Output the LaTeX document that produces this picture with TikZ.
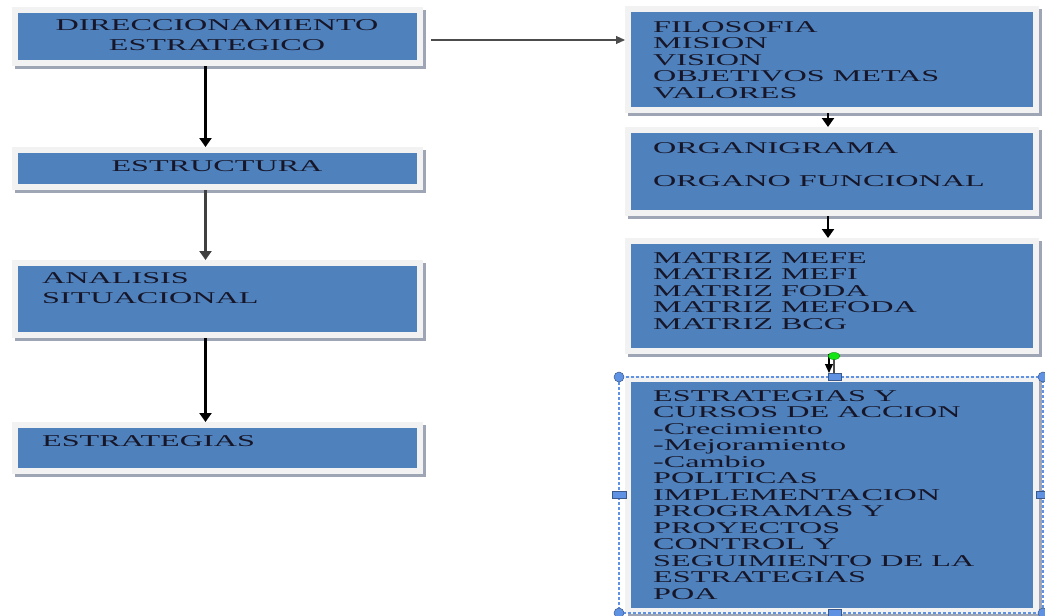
\documentclass[tikz,border=0pt]{standalone}
\usepackage{fontspec}
\newfontfamily\boxfont[FakeStretch=1.95]{Liberation Serif}
\usepackage{tikz}
\usetikzlibrary{arrows.meta}
\definecolor{boxblue}{RGB}{79,129,189}
\definecolor{framegray}{RGB}{242,242,242}
\definecolor{shadowgray}{RGB}{158,166,182}
\definecolor{inkblack}{RGB}{22,22,40}
\definecolor{selblue}{RGB}{96,146,228}
\definecolor{handlegreen}{RGB}{20,230,20}
\tikzset{
  blok/.style={rectangle, fill=boxblue, draw=framegray, line width=6pt, inner sep=0pt,
    preaction={draw=shadowgray, line width=6pt, transform canvas={shift={(2.5pt,-2.5pt)}}}},
  txt/.style={inner sep=0pt, align=left, text=inkblack,
    font=\boxfont\fontsize{16.5pt}{16.5pt}\selectfont},
  ltxt/.style={txt, font=\boxfont\fontsize{16.5pt}{20pt}\selectfont},
  flow/.style={line width=2.2pt, -{Triangle[width=12pt,length=9pt]}},
  thinflow/.style={line width=1.1pt, draw=black!70, -{Triangle[width=8pt,length=9pt]}},
  handle/.style={fill=selblue, draw=selblue!60!black, line width=0.5pt}
}
\begin{document}
\begin{tikzpicture}[x=1pt, y=-1pt]
      \useasboundingbox (0, 0) rectangle (1045, 616);
      \node[blok, minimum width=405pt, minimum height=53pt] (l1) at (217.5, 36.5) {};
      \node[blok, minimum width=405pt, minimum height=37pt] (l2) at (217.5, 168.5) {};
      \node[blok, minimum width=405pt, minimum height=72pt] (l3) at (217.5, 299) {};
      \node[blok, minimum width=405pt, minimum height=46pt] (l4) at (217.5, 448) {};
      \node[blok, minimum width=408pt, minimum height=101pt] (r1) at (832, 59.5) {};
      \node[blok, minimum width=408pt, minimum height=83pt] (r2) at (832, 171.5) {};
      \node[blok, minimum width=408pt, minimum height=110pt] (r3) at (832, 296) {};
      \node[blok, minimum width=408pt, minimum height=232pt] (r4) at (832, 495) {};
      \draw[flow] ([xshift=-12pt]l1.south) -- ([xshift=-12pt]l2.north);
      \draw[flow, draw=black!75] ([xshift=-12pt]l2.south) -- ([xshift=-12pt]l3.north);
      \draw[flow] ([xshift=-12pt]l3.south) -- ([xshift=-12pt]l4.north);
      \coordinate (hstart) at ([xshift=8pt, yshift=-3.5pt]l1.east);
      \draw[thinflow] (hstart) -- (hstart -| r1.west);
      \draw[flow] ([xshift=-4pt]r1.south) -- ([xshift=-4pt]r2.north);
      \draw[flow] ([xshift=-4pt]r2.south) -- ([xshift=-4pt]r3.north);
      \draw[thinflow, draw=black] ([xshift=-3pt]r3.south) -- ([xshift=-3pt, yshift=3pt]r4.north);
      \node[ltxt, anchor=north, align=center] (l1t) at (217, 19) {DIRECCIONAMIENTO\\ESTRATEGICO};
      \node[ltxt, anchor=north, align=center] (l2t) at (217, 160) {ESTRUCTURA};
      \node[ltxt, anchor=north west] (l3t) at (42, 272) {ANALISIS\\SITUACIONAL};
      \node[ltxt, anchor=north west] (l4t) at (42, 435) {ESTRATEGIAS};
      \node[txt, anchor=north west] (r1t) at (653, 21) {FILOSOFIA\\MISION\\VISION\\OBJETIVOS METAS\\VALORES};
      \node[txt, anchor=north west] (r2t) at (653, 142) {ORGANIGRAMA\\[16.5pt]ORGANO FUNCIONAL};
      \node[txt, anchor=north west] (r3t) at (653, 252) {MATRIZ MEFE\\MATRIZ MEFI\\MATRIZ FODA\\MATRIZ MEFODA\\MATRIZ BCG};
      \node[txt, anchor=north west] (r4t) at (653, 390) {ESTRATEGIAS Y\\CURSOS DE ACCION\\-Crecimiento\\-Mejoramiento\\-Cambio\\POLITICAS\\IMPLEMENTACION\\PROGRAMAS Y\\PROYECTOS\\CONTROL Y\\SEGUIMIENTO DE LA\\ESTRATEGIAS\\POA};
      \draw[selblue, line width=1.2pt, dash pattern=on 3pt off 2pt] (619, 377) rectangle (1043, 613);
      \draw[black!70, line width=1.4pt] (834, 359) -- (834, 373);
      \draw[fill=handlegreen, draw=handlegreen!60!black, line width=0.4pt] (834, 356) ellipse (6pt and 3.5pt);
      \draw[handle] (619, 377) circle (5pt);
      \draw[handle] (1043, 377) circle (5pt);
      \draw[handle] (619, 613) circle (5pt);
      \draw[handle] (1043, 613) circle (5pt);
      \draw[handle] (828, 373.5) rectangle (841, 380.5);
      \draw[handle] (612, 491.5) rectangle (626, 498.5);
      \draw[handle] (1036, 491.5) rectangle (1050, 498.5);
      \draw[handle] (828, 609.5) rectangle (841, 616.5);
    \end{tikzpicture}
\end{document}
